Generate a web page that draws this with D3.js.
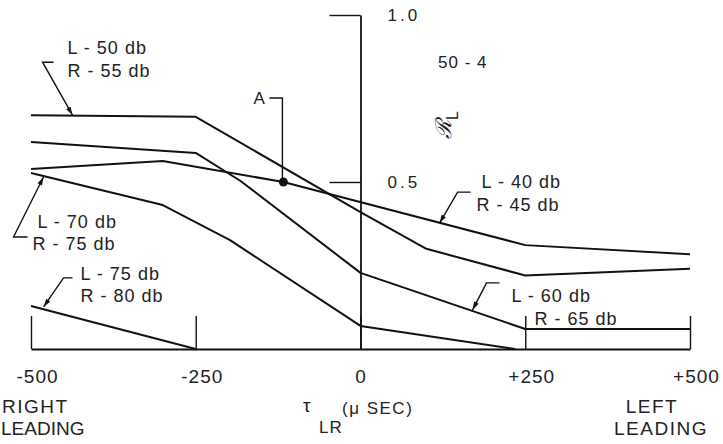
<!DOCTYPE html>
<html>
<head>
<meta charset="utf-8">
<script src="https://cdn.jsdelivr.net/npm/d3@7"></script>
<style>
  body { margin: 0; background: #fff; }
  svg { display: block; }
  text { font-family: "Liberation Sans", Arial, sans-serif; fill: #222; }
</style>
</head>
<body>
<script>
// ---- data (x = tau_LR in microseconds, y = R_L) ----
const xTicks = [-500, -250, 0, 250, 500];
const xTickLabels = ["-500", "-250", "0", "+250", "+500"];
const yTicks = [0.5, 1.0];
const yTickLabels = ["0.5", "1.0"];

const seriesNames = ["L-50 R-55", "L-60 R-65", "L-40 R-45", "L-70 R-75", "L-75 R-80"];
const l50x = [-500, -250, 0, 100, 250, 500];
const l50y = [0.70, 0.695, 0.41, 0.30, 0.22, 0.24];
const l60x = [-500, -250, -182, 0, 250, 500];
const l60y = [0.62, 0.587, 0.503, 0.228, 0.06, 0.06];
const l40x = [-500, -300, -117, 250, 500];
const l40y = [0.539, 0.563, 0.50, 0.311, 0.284];
const l70x = [-500, -300, -198, 0, 235];
const l70y = [0.527, 0.431, 0.326, 0.069, 0.0];
const l75x = [-500, -250];
const l75y = [0.129, 0.0];

// point A
const pointA = [-117, 0.50];

// leader tips in data units
const tips = [[-437, 0.70], [120, 0.377], [170, 0.117], [-481, 0.515], [-481, 0.126]];
const labelTop = ["L - 50 db", "L - 40 db", "L - 60 db", "L - 70 db", "L - 75 db"];
const labelBot = ["R - 55 db", "R - 45 db", "R - 65 db", "R - 75 db", "R - 80 db"];

const W = 723, H = 444;
const x = d3.scaleLinear().domain([-500, 500]).range([31, 690]);
const y = d3.scaleLinear().domain([0, 1]).range([349, 15]);

const svg = d3.select("body").append("svg")
    .attr("width", W)
    .attr("height", H);

svg.append("defs").append("marker")
    .attr("id", "arr")
    .attr("viewBox", "0 0 10 6")
    .attr("refX", 10).attr("refY", 3)
    .attr("markerWidth", 9).attr("markerHeight", 5)
    .attr("markerUnits", "userSpaceOnUse")
    .attr("orient", "auto")
    .append("path")
    .attr("d", "M0,0 L10,3 L0,6 Z")
    .attr("fill", "#111");

// x axis (baseline with upward ticks)
const xAxis = d3.axisBottom(x)
    .tickValues(xTicks)
    .tickFormat((d, i) => xTickLabels[i])
    .tickSizeInner(-33)
    .tickSizeOuter(0)
    .tickPadding(21);

const gx = svg.append("g")
    .attr("transform", `translate(0,${y(0)})`)
    .call(xAxis);
gx.select(".domain").attr("stroke", "#111").attr("stroke-width", 1.8);
gx.selectAll(".tick line").attr("stroke", "#111").attr("stroke-width", 1.4);
gx.selectAll(".tick text")
    .attr("font-size", 19)
    .attr("letter-spacing", 1)
    .attr("dx", (d) => d === 0 ? 0 : 6)
    .attr("fill", "#222");

// y axis at tau = 0, ticks point left, labels on the right
const yAxis = d3.axisRight(y)
    .tickValues(yTicks)
    .tickFormat((d, i) => yTickLabels[i])
    .tickSizeInner(-31)
    .tickSizeOuter(0)
    .tickPadding(27);

const gy = svg.append("g")
    .attr("transform", `translate(${x(0)},0)`)
    .call(yAxis);
gy.select(".domain").attr("stroke", "#111").attr("stroke-width", 1.8);
gy.selectAll(".tick line").attr("stroke", "#111").attr("stroke-width", 1.4);
gy.selectAll(".tick text")
    .attr("font-size", 17)
    .attr("letter-spacing", 3)
    .attr("fill", "#222");

// curves
const curves = [
    [l50x, l50y], [l60x, l60y], [l40x, l40y], [l70x, l70y], [l75x, l75y]
];
const line = d3.line().x(d => x(d[0])).y(d => y(d[1]));

svg.append("g")
    .selectAll("path")
    .data(curves)
    .enter()
    .append("path")
    .attr("class", (d, i) => "curve c" + i)
    .attr("d", d => line(d[0].map((v, i) => [v, d[1][i]])))
    .attr("fill", "none")
    .attr("stroke", "#111")
    .attr("stroke-width", 2)
    .attr("stroke-linejoin", "round");

// point A + leader
svg.append("circle")
    .attr("cx", x(pointA[0]))
    .attr("cy", y(pointA[1]))
    .attr("r", 4.5)
    .attr("fill", "#111");
svg.append("path")
    .attr("d", `M${x(pointA[0]) - 14},98 H${x(pointA[0]) - 1} V${y(pointA[1])}`)
    .attr("fill", "none")
    .attr("stroke", "#111")
    .attr("stroke-width", 1.4);
svg.append("text")
    .attr("x", x(pointA[0]) - 30)
    .attr("y", 104)
    .attr("font-size", 17)
    .text("A");

// leaders: corner offset and text offsets relative to the tip (px)
const leaderLayout = [
    { c: [-30, -53], e: 11, tx: -5, ty: -61, bx: -5, by: -38 },
    { c: [18, -31], e: 13, tx: 42, ty: -35, bx: 37, by: -12 },
    { c: [14, -27], e: 13, tx: 39, ty: -8, bx: 62, by: 15 },
    { c: [-30, 60], e: 14, tx: -6, ty: 51, bx: -11, by: 73 },
    { c: [20, -29], e: 9, tx: 37, ty: -27, bx: 37, by: -5 }
];

const ann = svg.append("g");
tips.forEach((t, i) => {
    const L = leaderLayout[i];
    const tx = x(t[0]), ty = y(t[1]);
    const cx = tx + L.c[0], cy = ty + L.c[1];
    const ex = cx + L.e;
    ann.append("path")
        .attr("d", `M${ex},${cy} L${cx},${cy} L${tx},${ty}`)
        .attr("fill", "none")
        .attr("stroke", "#111")
        .attr("stroke-width", 1.4)
        .attr("marker-end", "url(#arr)");
    ann.append("text")
        .attr("x", tx + L.tx).attr("y", ty + L.ty)
        .attr("font-size", 18).attr("letter-spacing", 1)
        .text(labelTop[i]);
    ann.append("text")
        .attr("x", tx + L.bx).attr("y", ty + L.by)
        .attr("font-size", 18).attr("letter-spacing", 1)
        .text(labelBot[i]);
});

// figure number and y label
svg.append("text")
    .attr("x", 438).attr("y", 68)
    .attr("font-size", 17)
    .attr("letter-spacing", 1)
    .text("50 - 4");

const yl = svg.append("text")
    .attr("transform", "translate(451,139) rotate(-90)")
    .attr("font-family", "DejaVu Serif, serif");
yl.append("tspan").attr("font-size", 22).attr("font-style", "italic").text("ℛ");
yl.append("tspan").attr("font-size", 16).attr("dy", 7)
    .attr("font-family", "Liberation Sans, sans-serif").text("L");

// x axis titles
svg.append("text").attr("x", 303).attr("y", 412).attr("font-size", 19).text("τ");
svg.append("text").attr("x", 319).attr("y", 433).attr("font-size", 17).attr("letter-spacing", 1).text("LR");
svg.append("text").attr("x", 342).attr("y", 414).attr("font-size", 17).attr("letter-spacing", 1.5).text("(μ SEC)");

const sideLabels = [
    { x: 2, t: "RIGHT", y: 413, a: "start", ls: 1.5 }, { x: 1, t: "LEADING", y: 435, a: "start", ls: 0 },
    { x: 652, t: "LEFT", y: 413, a: "middle", ls: 1.5 }, { x: 661, t: "LEADING", y: 435, a: "middle", ls: 1.5 }
];
svg.append("g").selectAll("text")
    .data(sideLabels)
    .enter()
    .append("text")
    .attr("x", d => d.x).attr("y", d => d.y)
    .attr("text-anchor", d => d.a)
    .attr("font-size", 19)
    .attr("letter-spacing", d => d.ls)
    .text(d => d.t);
</script>
</body>
</html>
